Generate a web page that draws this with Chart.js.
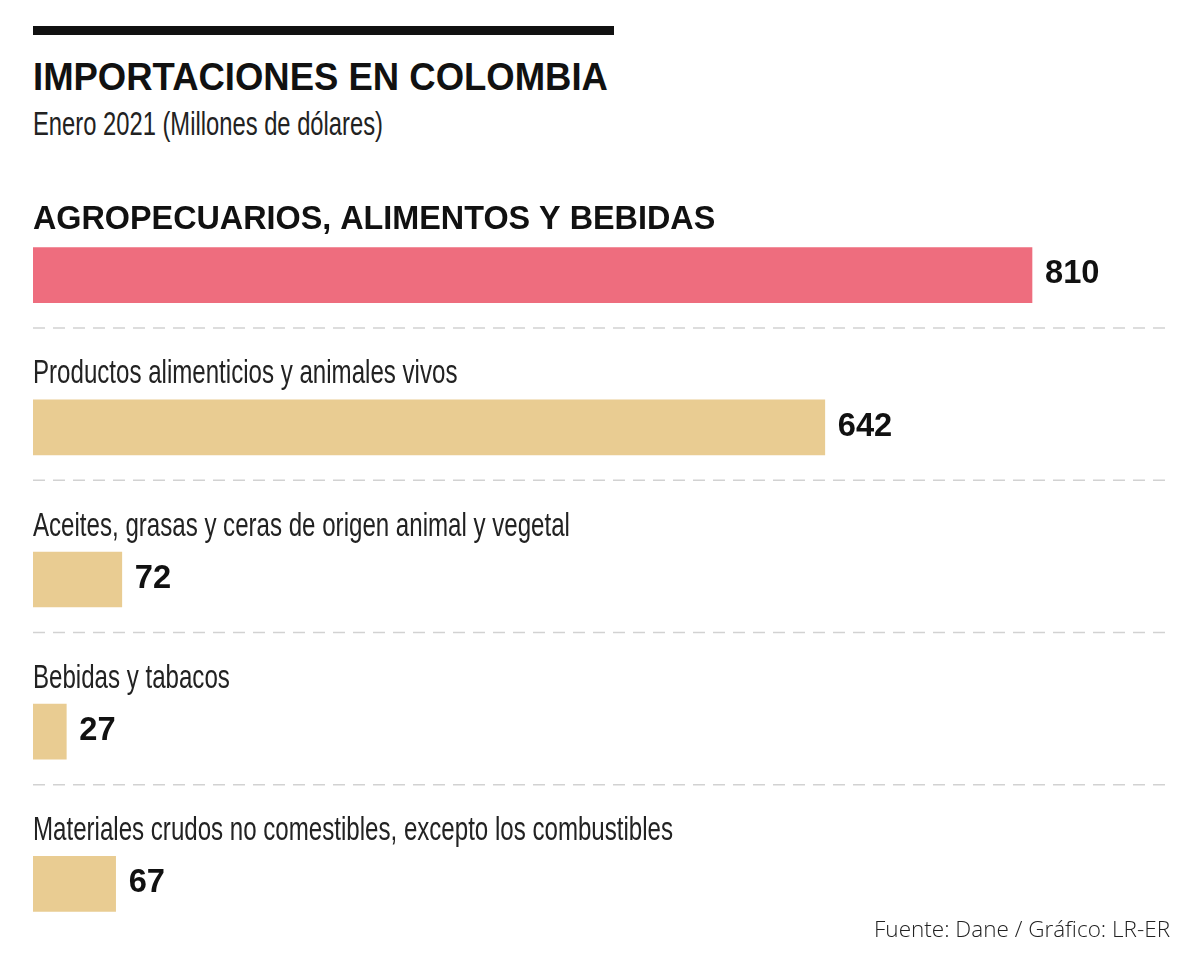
<!DOCTYPE html>
<html lang="es">
<head>
<meta charset="utf-8">
<title>Importaciones en Colombia</title>
<script src="https://cdn.jsdelivr.net/npm/chart.js@4.4.1/dist/chart.umd.min.js"></script>
<style>
  html, body { margin: 0; padding: 0; background: #fff; }
  #wrap { position: relative; width: 1200px; height: 969px; overflow: hidden; }
  .rule { position: absolute; left: 33px; top: 26px; width: 581px; height: 9px; background: #111; }
  .t { position: absolute; margin: 0; white-space: nowrap; line-height: 1; color: #111; }
  #title { left: 33px; top: 56px; font: bold 38px "Liberation Sans", Arial, sans-serif;
           transform: scaleX(0.96); transform-origin: left top; }
  #sub { left: 33px; top: 105px; font: 33px "Liberation Sans", Arial, sans-serif; color: #222;
         transform: scaleX(0.72); transform-origin: left top; }
  #src { right: 30px; top: 913px; font: 300 22.5px "Open Sans", sans-serif; color: #222; }
  canvas { position: absolute; left: 0; top: 0; }
</style>
</head>
<body>
<div id="wrap">
  <div class="rule"></div>
  <h1 class="t" id="title">IMPORTACIONES EN COLOMBIA</h1>
  <div class="t" id="sub">Enero 2021 (Millones de dólares)</div>
  <canvas id="importChart" width="1200" height="969"></canvas>
  <div class="t" id="src">Fuente: Dane / Gráfico: LR-ER</div>
</div>
<script>
// datos (millones de dólares)
const categories = [
    'AGROPECUARIOS, ALIMENTOS Y BEBIDAS',
    'Productos alimenticios y animales vivos',
    'Aceites, grasas y ceras de origen animal y vegetal',
    'Bebidas y tabacos',
    'Materiales crudos no comestibles, excepto los combustibles',
];
const values = [810, 642, 72, 27, 67];
const barColors = ['#EE6D7E', '#E9CC92', '#E9CC92', '#E9CC92', '#E9CC92'];

const sans = '"Liberation Sans", Arial, sans-serif';

// etiquetas encima de cada barra, valores a la derecha y separadores punteados
const barLabels = {
    id: 'barLabels',
    afterDatasetsDraw(chart) {
        const ctx = chart.ctx;
        const bars = chart.getDatasetMeta(0).data;
        const left = chart.scales.x.getPixelForValue(0);
        ctx.save();
        bars.forEach((bar, i) => {
            // nombre de la categoria (el total va en negrita)
            ctx.textBaseline = 'alphabetic';
            ctx.textAlign = 'left';
            ctx.save();
            if (i === 0) {
                ctx.fillStyle = '#111';
                ctx.font = 'bold 33px ' + sans;
                ctx.translate(left, bar.y - 46);
                ctx.scale(0.98, 1);
            } else {
                ctx.fillStyle = '#222';
                ctx.font = '33px ' + sans;
                ctx.translate(left, bar.y - 44);
                ctx.scale(0.73, 1);
            }
            ctx.fillText(categories[i], 0, 0);
            ctx.restore();

            // valor
            ctx.save();
            ctx.fillStyle = '#111';
            ctx.font = 'bold 34px ' + sans;
            ctx.textBaseline = 'middle';
            ctx.translate(bar.x + 13, bar.y - 1);
            ctx.scale(0.96, 1);
            ctx.fillText(String(values[i]), 0, 0);
            ctx.restore();

            // separador
            if (i < bars.length - 1) {
                ctx.strokeStyle = '#d2d2d2';
                ctx.lineWidth = 1.5;
                ctx.setLineDash([12, 8]);
                ctx.beginPath();
                ctx.moveTo(left, bar.y + 53);
                ctx.lineTo(1172, bar.y + 53);
                ctx.stroke();
                ctx.setLineDash([]);
            }
        });
        ctx.restore();
    }
};

new Chart(document.getElementById('importChart').getContext('2d'), {
    type: 'bar',
    data: {
        labels: categories,
        datasets: [{
            data: values,
            backgroundColor: barColors,
            barThickness: 55,
            borderWidth: 0,
        }],
    },
    options: {
        indexAxis: 'y',
        responsive: false,
        animation: false,
        layout: { padding: { top: 199, bottom: 9, left: 33, right: 57 } },
        scales: {
            x: { display: false, min: 0, max: 900 },
            y: { display: false },
        },
        plugins: {
            legend: { display: false },
            tooltip: { enabled: false },
        },
    },
    plugins: [barLabels],
});
</script>
</body>
</html>
